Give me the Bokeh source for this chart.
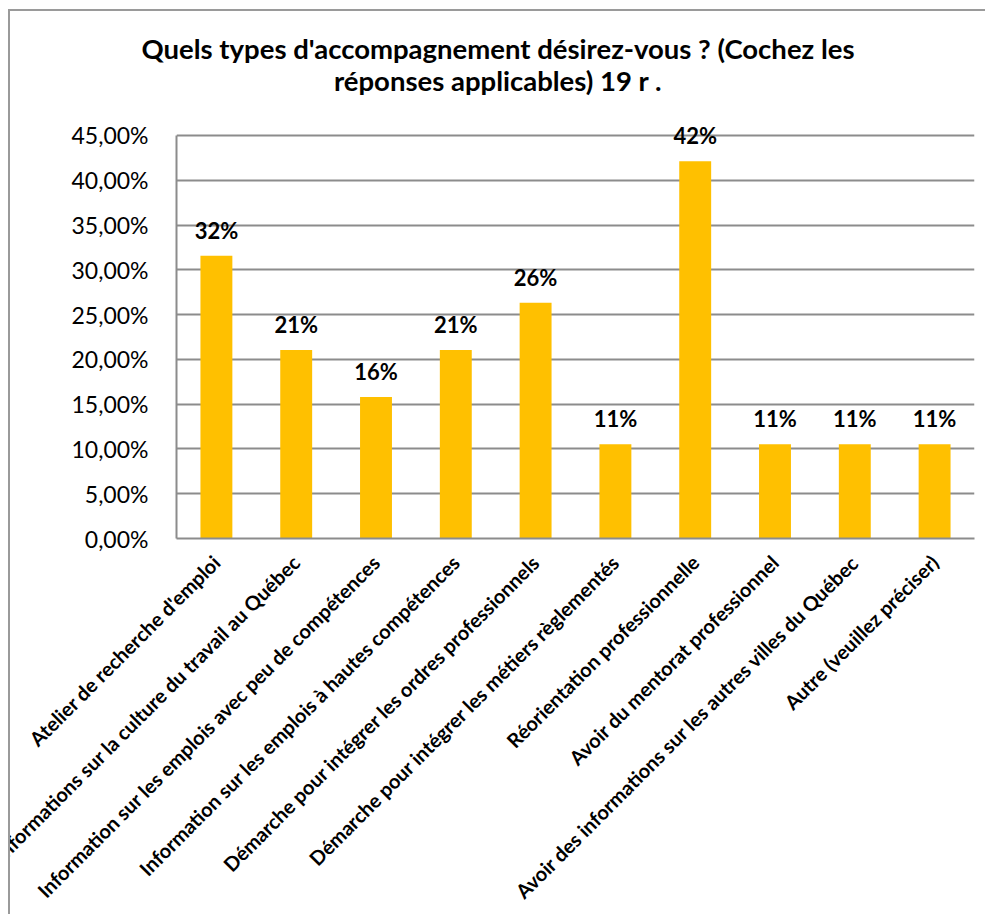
import math
from bokeh.plotting import figure
from bokeh.layouts import column
from bokeh.models import ColumnDataSource, LabelSet, CustomJSTickFormatter, FixedTicker
from bokeh.core.properties import value
from bokeh.embed import file_html
from bokeh.resources import INLINE

categories = [
    "Atelier de recherche d'emploi",
    "Informations sur la culture du travail au Québec",
    "Information sur les emplois avec peu de compétences",
    "Information sur les emplois à hautes compétences",
    "Démarche pour intégrer les ordres professionnels",
    "Démarche pour intégrer les métiers règlementés",
    "Réorientation professionnelle",
    "Avoir du mentorat professionnel",
    "Avoir des informations sur les autres villes du Québec",
    "Autre (veuillez préciser)",
]
values = [0.3158, 0.2105, 0.1579, 0.2105, 0.2632, 0.1053, 0.4211, 0.1053, 0.1053, 0.1053]
labels = ["32%", "21%", "16%", "21%", "26%", "11%", "42%", "11%", "11%", "11%"]
y_ticks = [0.0, 0.05, 0.10, 0.15, 0.20, 0.25, 0.30, 0.35, 0.40, 0.45]
title_lines = ["Quels types d'accompagnement désirez-vous ? (Cochez les",
               "réponses applicables) 19 r ."]

FONT = "Lato"
GRID = "#8c8c8c"
W = 975
TITLE_H = 94

# ---- title block (own small figure so the text can be centred on the whole chart)
tf = figure(title=None, width=W, height=TITLE_H, x_range=(0, 1), y_range=(TITLE_H, 0),
            x_axis_location=None, y_axis_location=None,
            output_backend="svg", toolbar_location=None, min_border=0)
if "frame_align" in tf.properties():
    tf.frame_align = False
tf.grid.visible = False
tf.outline_line_color = None
tsrc = ColumnDataSource(dict(x=[0.5] * len(title_lines),
                             y=[37 + 32 * i for i in range(len(title_lines))],
                             t=title_lines))
tf.text(x="x", y="y", text="t", source=tsrc, text_align="center", text_baseline="alphabetic",
        text_font=value(FONT), text_font_style="bold", text_font_size="27.5px", text_color="#000000")

# ---- main chart
src = ColumnDataSource(dict(cat=categories, val=values, lab=labels))

p = figure(title=None, x_range=categories, y_range=(0, 0.4645),
           frame_width=798, frame_height=416,
           output_backend="svg", toolbar_location=None,
           min_border_left=166, min_border_right=11, min_border_top=17, min_border_bottom=370)
if "frame_align" in p.properties():
    p.frame_align = False

p.vbar(x="cat", top="val", width=0.4, source=src, color="#FFC000", line_color=None)

p.outline_line_color = None
p.xgrid.grid_line_color = None
p.ygrid.grid_line_color = GRID
p.ygrid.grid_line_width = 2
p.yaxis.ticker = FixedTicker(ticks=y_ticks)
p.yaxis.bounds = (0, 0.45)
p.yaxis.formatter = CustomJSTickFormatter(code="return (tick*100).toFixed(2).replace('.', ',') + '%';")
p.yaxis.axis_line_color = GRID
p.yaxis.axis_line_width = 2
p.yaxis.major_tick_line_color = None
p.yaxis.minor_tick_line_color = None
p.yaxis.major_label_text_font = FONT
p.yaxis.major_label_text_font_size = "23px"
p.yaxis.major_label_text_color = "#000000"
p.yaxis.major_label_standoff = 22

p.xaxis.axis_line_color = GRID
p.xaxis.axis_line_width = 2
p.xaxis.major_tick_line_color = None
p.xaxis.minor_tick_line_color = None
p.xaxis.major_label_orientation = math.pi / 4
p.xaxis.major_label_text_font = FONT
p.xaxis.major_label_text_font_style = "bold"
p.xaxis.major_label_text_font_size = "20px"
p.xaxis.major_label_text_color = "#000000"
p.xaxis.major_label_standoff = 14
p.x_range.range_padding = 0

ls = LabelSet(x="cat", y="val", text="lab", source=src, y_offset=17,
              text_align="center", text_baseline="alphabetic",
              text_font=value(FONT), text_font_style="bold", text_font_size="22px",
              text_color="#000000")
p.add_layout(ls)

layout = column(tf, p, spacing=0,
                styles={"margin-left": "8px", "margin-top": "9px",
                        "border-left": "2px solid #9a9a9a", "border-top": "2px solid #9a9a9a"})

open("out.html", "w").write(file_html(layout, INLINE))
